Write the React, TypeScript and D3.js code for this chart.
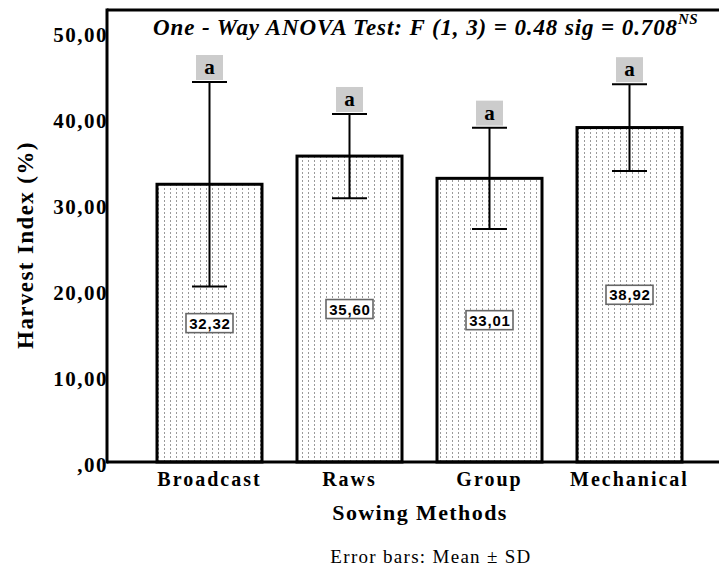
import React from "react";
import * as d3 from "d3";

const categories = ["Broadcast", "Raws", "Group", "Mechanical"];
const means = [32.32, 35.6, 33.01, 38.92];
const sds = [11.9, 4.9, 5.9, 5.05];
const letters = ["a", "a", "a", "a"];
const yTicks = [0, 10, 20, 30, 40, 50];
const valueLabels = ["32,32", "35,60", "33,01", "38,92"];

const W = 719;
const H = 566;
const plotLeft = 107;
const plotTop = 10;
const plotBottom = 462;

const fmt = (v: number) => (v === 0 ? ",00" : v.toFixed(2).replace(".", ","));

export default function App() {
  const y = d3.scaleLinear().domain([0, 52.6]).range([plotBottom, plotTop]);
  const x = d3
    .scaleBand<string>()
    .domain(categories)
    .range([139.5, 699.5])
    .paddingInner(0.25)
    .paddingOuter(0.125);
  const bw = x.bandwidth();
  const capW = 35;
  const serif = "'Liberation Serif', 'Times New Roman', serif";
  const sans = "'Liberation Sans', Arial, sans-serif";

  return (
    <svg width={W} height={H} style={{ position: "absolute", left: 0, top: 0, background: "#fff" }}>
      <defs>
        <pattern id="dots" width={6} height={4} patternUnits="userSpaceOnUse">
          <rect width={6} height={4} fill="#fff" />
          <rect x={2} y={0} width={1} height={2} fill="#9a9a9a" />
        </pattern>
      </defs>
      <rect x={0} y={0} width={W} height={H} fill="#fff" />

      {/* bars */}
      {categories.map((c, i) => (
        <rect
          key={c}
          x={x(c)!}
          y={y(means[i])}
          width={bw}
          height={plotBottom - y(means[i])}
          fill="url(#dots)"
          stroke="#000"
          strokeWidth={3}
        />
      ))}

      {/* error bars */}
      {categories.map((c, i) => {
        const cx = x(c)! + bw / 2;
        const hi = y(means[i] + sds[i]);
        const lo = y(means[i] - sds[i]);
        return (
          <g key={c} stroke="#000" strokeWidth={2}>
            <line x1={cx} x2={cx} y1={hi} y2={lo} />
            <line x1={cx - capW / 2} x2={cx + capW / 2} y1={hi} y2={hi} />
            <line x1={cx - capW / 2} x2={cx + capW / 2} y1={lo} y2={lo} />
          </g>
        );
      })}

      {/* letter boxes */}
      {categories.map((c, i) => {
        const cx = x(c)! + bw / 2;
        const hi = y(means[i] + sds[i]);
        return (
          <g key={c}>
            <rect x={cx - 13.5} y={hi - 27} width={27} height={25} fill="#cccccc" />
            <text
              x={cx}
              y={hi - 8}
              textAnchor="middle"
              fontFamily={serif}
              fontWeight="bold"
              fontSize={21}
              fill="#000"
            >
              {letters[i]}
            </text>
          </g>
        );
      })}

      {/* value labels */}
      {categories.map((c, i) => {
        const cx = x(c)! + bw / 2;
        const cy = y(means[i] / 2);
        return (
          <g key={c}>
            <rect x={cx - 23.5} y={cy - 9.5} width={47} height={19} fill="#fff" stroke="#666" strokeWidth={1.6} />
            <text
              x={cx + 0.5}
              y={cy + 5.5}
              textAnchor="middle"
              fontFamily={sans}
              fontWeight="bold"
              fontSize={15}
              letterSpacing={0.8}
              fill="#000"
            >
              {valueLabels[i]}
            </text>
          </g>
        );
      })}

      {/* frame */}
      <line x1={plotLeft} x2={W} y1={plotTop} y2={plotTop} stroke="#000" strokeWidth={3} />
      <line x1={plotLeft} x2={plotLeft} y1={plotTop - 1.5} y2={plotBottom + 1.5} stroke="#000" strokeWidth={3} />
      <line x1={plotLeft} x2={W} y1={plotBottom} y2={plotBottom} stroke="#000" strokeWidth={3} />

      {/* y tick labels */}
      {yTicks.map((t) => (
        <text
          key={t}
          x={plotLeft + 1}
          y={y(t) + 10}
          textAnchor="end"
          fontFamily={serif}
          fontWeight="bold"
          fontSize={21}
          letterSpacing={1.5}
          fill="#000"
        >
          {fmt(t)}
        </text>
      ))}

      {/* x tick labels */}
      {categories.map((c) => (
        <text
          key={c}
          x={x(c)! + bw / 2}
          y={486}
          textAnchor="middle"
          fontFamily={serif}
          fontWeight="bold"
          fontSize={20}
          letterSpacing={2}
          fill="#000"
        >
          {c}
        </text>
      ))}

      {/* title */}
      <text x={153} y={35} fontFamily={serif} fontWeight="bold" fontStyle="italic" fontSize={23} letterSpacing={0.9} fill="#000">
        One - Way ANOVA Test: F (1, 3) = 0.48 sig = 0.708
        <tspan fontSize={15} dy={-11} letterSpacing={0.3}>NS</tspan>
      </text>

      {/* axis titles */}
      <text
        transform={`translate(33, 245) rotate(-90)`}
        textAnchor="middle"
        fontFamily={serif}
        fontWeight="bold"
        fontSize={23}
        letterSpacing={1.4}
        fill="#000"
      >
        Harvest Index (%)
      </text>
      <text x={420} y={520} textAnchor="middle" fontFamily={serif} fontWeight="bold" fontSize={22} letterSpacing={1.4} fill="#000">
        Sowing Methods
      </text>
      <text x={431} y={563} textAnchor="middle" fontFamily={serif} fontSize={19} letterSpacing={1.3} fill="#000">
        Error bars: Mean ± SD
      </text>
    </svg>
  );
}
